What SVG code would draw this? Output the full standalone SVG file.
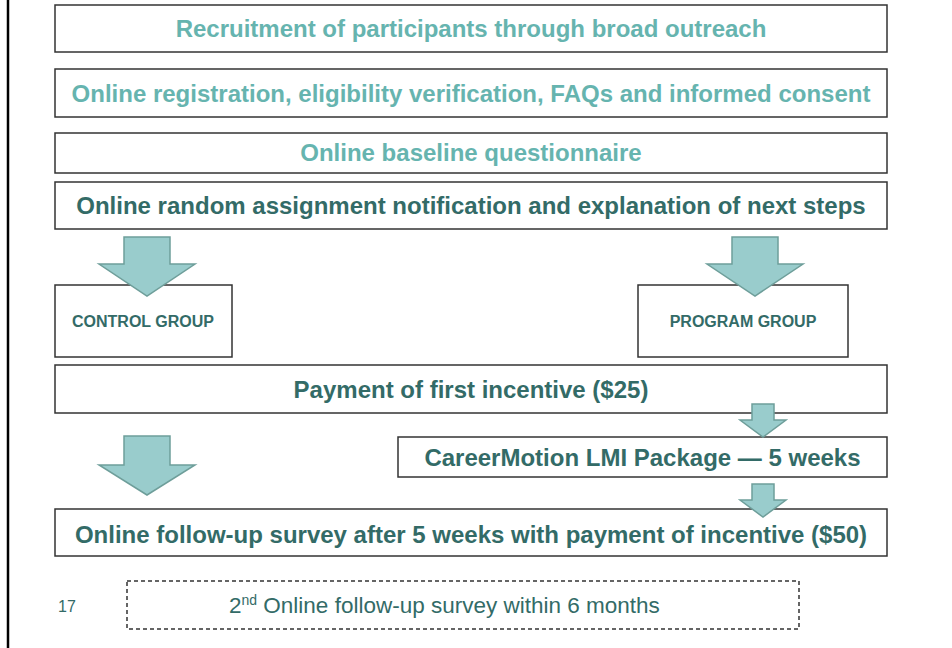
<svg xmlns="http://www.w3.org/2000/svg" width="952" height="648" viewBox="0 0 952 648">
<style>
.box{fill:#fff;stroke:#333;stroke-width:1.5}
.dash{fill:none;stroke:#333;stroke-width:1.5;stroke-dasharray:4 3}
.t{font-family:"Liberation Sans",Arial,sans-serif;font-weight:bold;text-anchor:middle}
.lt{fill:#66B4AF;font-size:24px}
.dk{fill:#336B67;font-size:24px}
.sm{fill:#336B67;font-size:16px}
.arr{fill:#99CCCC;stroke:#6E9E9A;stroke-width:1.5}
</style>
<rect width="952" height="648" fill="#fff"/>
<line x1="8" y1="0" x2="8" y2="648" stroke="#000" stroke-width="2.5"/>
<g id="n1"><rect class="box" x="55" y="5" width="832" height="47"/><text class="t lt" x="471" y="37">Recruitment of participants through broad outreach</text></g>
<g id="n2"><rect class="box" x="55" y="69" width="832" height="48"/><text class="t lt" x="471" y="102">Online registration, eligibility verification, FAQs and informed consent</text></g>
<g id="n3"><rect class="box" x="55" y="133" width="832" height="40"/><text class="t lt" x="471" y="161">Online baseline questionnaire</text></g>
<g id="n4"><rect class="box" x="55" y="182" width="832" height="47"/><text class="t dk" x="471" y="214">Online random assignment notification and explanation of next steps</text></g>
<g id="n5"><rect class="box" x="55" y="285" width="177" height="72"/><text class="t sm" x="143" y="327">CONTROL GROUP</text></g>
<g id="n6"><rect class="box" x="638" y="285" width="210" height="72"/><text class="t sm" x="743" y="327">PROGRAM GROUP</text></g>
<g id="n7"><rect class="box" x="55" y="365" width="832" height="48"/><text class="t dk" x="471" y="398">Payment of first incentive ($25)</text></g>
<g id="n8"><rect class="box" x="398" y="437" width="489" height="40"/><text class="t dk" x="642.5" y="466">CareerMotion LMI Package — 5 weeks</text></g>
<g id="n9"><rect class="box" x="55" y="509" width="832" height="47"/><text class="t dk" x="471" y="543">Online follow-up survey after 5 weeks with payment of incentive ($50)</text></g>
<g id="n10"><rect class="dash" x="127" y="581" width="672" height="48"/><text x="229" y="613" font-family="Liberation Sans, Arial, sans-serif" font-size="22.5" fill="#336B67">2<tspan font-size="14" dy="-8">nd</tspan><tspan dy="8"> Online follow-up survey within 6 months</tspan></text></g>
<text x="58" y="612" font-family="Liberation Sans, Arial, sans-serif" font-size="16" fill="#336B67">17</text>
<g id="connectors">
<polygon class="arr" points="124,237 170,237 170,264 195,264 147,296 99,264 124,264"/>
<polygon class="arr" points="732,237 778,237 778,264 803,264 755,296 707,264 732,264"/>
<polygon class="arr" points="124,436 170,436 170,465 195,465 147,495 99,465 124,465"/>
<polygon class="arr" points="752,404 774,404 774,420 786,420 763,437 740,420 752,420"/>
<polygon class="arr" points="752,484 774,484 774,500 786,500 763,517 740,500 752,500"/>
</g>
</svg>
